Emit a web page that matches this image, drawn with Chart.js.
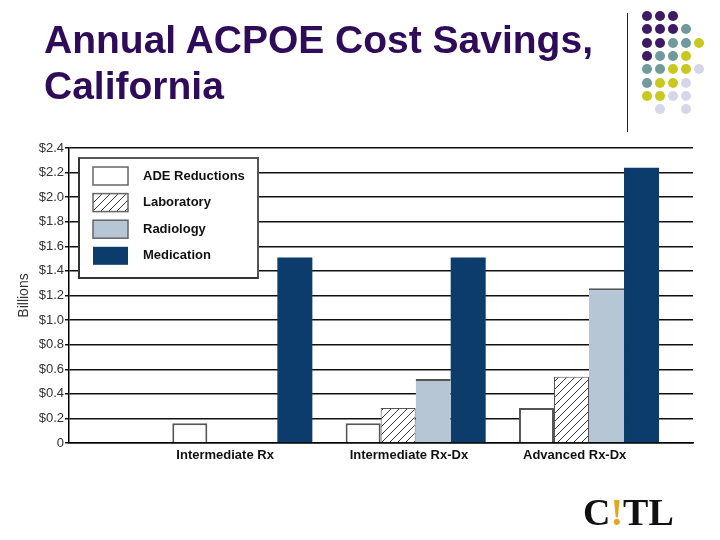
<!DOCTYPE html>
<html>
<head>
<meta charset="utf-8">
<script src="https://cdn.jsdelivr.net/npm/chart.js@4/dist/chart.umd.min.js"></script>
<style>
  html, body { margin: 0; padding: 0; background: #fff; }
  #wrap { position: relative; width: 720px; height: 540px; overflow: hidden; background: #fff; }
  #chart { position: absolute; left: 0; top: 0; }
  #title { position: absolute; left: 44px; top: 17px; font-family: "Liberation Sans", Arial, sans-serif;
           font-weight: bold; font-size: 39px; line-height: 46px; color: #2e0c59; white-space: nowrap; }
  #vline { position: absolute; left: 627px; top: 13px; width: 1px; height: 119px; background: #222; }
  .dot { position: absolute; width: 10px; height: 10px; border-radius: 50%; }
  #logo { position: absolute; left: 583px; top: 492px; font-family: "Liberation Serif", "DejaVu Serif", serif;
          font-weight: bold; font-size: 38px; color: #111; line-height: 40px; }
  #logo span { color: #e0a820; }
</style>
</head>
<body>
<div id="wrap">
  <canvas id="chart" width="720" height="540"></canvas>
  <div id="title">Annual ACPOE Cost Savings,<br>California</div>
  <div id="vline"></div>
  <div id="dots"></div>
  <div id="logo">C<span>!</span>TL</div>
</div>
<script>
// ---- data ----
const categories = ['Intermediate Rx', 'Intermediate Rx-Dx', 'Advanced Rx-Dx'];
const seriesNames = ['ADE Reductions', 'Laboratory', 'Radiology', 'Medication'];
const adeReductions = [0.16, 0.16, 0.285];
const laboratory = [null, 0.285, 0.54];
const radiology = [null, 0.52, 1.26];
const medication = [1.51, 1.51, 2.24];
const yTicks = [0, 0.2, 0.4, 0.6, 0.8, 1.0, 1.2, 1.4, 1.6, 1.8, 2.0, 2.2, 2.4];

// ---- decorative dot grid ----
const dotRows = [
  'PPP..', 'PPPT.', 'PPTTY', 'PTTY.', 'TTYYL', 'TYYL.', 'YYLL.', '.L.L.'
];
const dotColors = { P: '#3d1a63', T: '#719a9c', Y: '#c9c81f', L: '#d5d7e8' };
const dotsEl = document.getElementById('dots');
dotRows.forEach((row, r) => {
  [...row].forEach((c, k) => {
    if (c === '.') return;
    const d = document.createElement('div');
    d.className = 'dot';
    d.style.left = (642 + k * 13) + 'px';
    d.style.top = (11 + r * 13.3) + 'px';
    d.style.background = dotColors[c];
    dotsEl.appendChild(d);
  });
});

// ---- hatch pattern ----
function makeHatch() {
  const c = document.createElement('canvas');
  c.width = 8; c.height = 8;
  const g = c.getContext('2d');
  g.fillStyle = '#fff'; g.fillRect(0, 0, 8, 8);
  g.strokeStyle = '#222'; g.lineWidth = 0.9;
  g.beginPath();
  g.moveTo(-1, 9); g.lineTo(9, -1);
  g.moveTo(-1, 1); g.lineTo(1, -1);
  g.moveTo(7, 9); g.lineTo(9, 7);
  g.stroke();
  return g.createPattern(c, 'repeat');
}
const hatch = makeHatch();

const toPoints = arr => arr.map((v, i) => ({ x: i + 1, y: v }));

const data = {
  datasets: [
    { label: seriesNames[0], data: toPoints(adeReductions), backgroundColor: '#ffffff',
      borderColor: '#555', borderWidth: 2 },
    { label: seriesNames[1], data: toPoints(laboratory), backgroundColor: hatch,
      borderColor: '#555', borderWidth: 1 },
    { label: seriesNames[2], data: toPoints(radiology), backgroundColor: '#b6c6d4',
      borderColor: '#555', borderWidth: { top: 2, left: 0, right: 0, bottom: 0 } },
    { label: seriesNames[3], data: toPoints(medication), backgroundColor: '#0b3c6b',
      borderWidth: 0 }
  ]
};

// ---- custom boxed legend drawn over the plot ----
const boxLegend = {
  id: 'boxLegend',
  afterDraw(chart) {
    const ctx = chart.ctx;
    const bx = 79, by = 158, bw = 179, bh = 120;
    ctx.save();
    ctx.fillStyle = '#fff';
    ctx.fillRect(bx, by, bw, bh);
    ctx.strokeStyle = '#555';
    ctx.lineWidth = 2;
    ctx.strokeRect(bx, by, bw, bh);
    ctx.fillStyle = '#333';
    ctx.fillRect(bx - 1, by, 2, bh + 1);
    ctx.fillRect(bx - 1, by + bh - 1, bw + 1, 2);
    chart.data.datasets.forEach((ds, i) => {
      const sx = 93, sy = 167 + i * 26.6, sw = 35, sh = 18;
      ctx.fillStyle = ds.backgroundColor;
      ctx.fillRect(sx, sy, sw, sh);
      if (i < 3) {
        ctx.strokeStyle = '#666';
        ctx.lineWidth = 1.5;
        ctx.strokeRect(sx, sy, sw, sh);
      }
      ctx.fillStyle = '#111';
      ctx.font = 'bold 13px "Liberation Sans", Arial, sans-serif';
      ctx.textBaseline = 'middle';
      ctx.textAlign = 'left';
      ctx.fillText(ds.label, 143, sy + sh / 2);
    });
    ctx.restore();
  }
};

new Chart(document.getElementById('chart'), {
  type: 'bar',
  data,
  plugins: [boxLegend],
  options: {
    responsive: false,
    animation: false,
    layout: { padding: { top: 148, right: 27, bottom: 67, left: 12 } },
    plugins: { legend: { display: false }, tooltip: { enabled: false } },
    datasets: { bar: { categoryPercentage: 0.808, barPercentage: 1.0, borderSkipped: 'bottom' } },
    scales: {
      x: {
        type: 'linear',
        offset: false,
        min: 0, max: 3.6,
        grid: { display: false, drawTicks: false, offset: false },
        border: { display: true, color: '#000', width: 1.5 },
        afterBuildTicks: s => { s.ticks = categories.map((c, i) => ({ value: i + 1 })); },
        afterFit: s => { s.height = 30; },
        ticks: {
          callback: v => categories[Math.round(v) - 1] || '',
          align: 'start',
          labelOffset: -66,
          padding: 5,
          maxRotation: 0,
          autoSkip: false,
          color: '#111',
          font: { family: '"Liberation Sans", Arial, sans-serif', size: 13, weight: 'bold' }
        }
      },
      y: {
        min: 0, max: 2.4,
        afterBuildTicks: s => { s.ticks = yTicks.map(v => ({ value: v })); },
        afterFit: s => { s.width = 57; },
        grid: { color: '#111', lineWidth: 1.5, tickLength: 4, drawTicks: true },
        border: { display: true, color: '#000', width: 1.5 },
        ticks: {
          padding: 1,
          color: '#333',
          font: { family: '"Liberation Sans", Arial, sans-serif', size: 13 },
          callback: v => v === 0 ? '0' : '$' + v.toFixed(1)
        },
        title: {
          display: true, text: 'Billions', color: '#333',
          font: { family: '"Liberation Sans", Arial, sans-serif', size: 14 }
        }
      }
    }
  }
});
</script>
</body>
</html>
